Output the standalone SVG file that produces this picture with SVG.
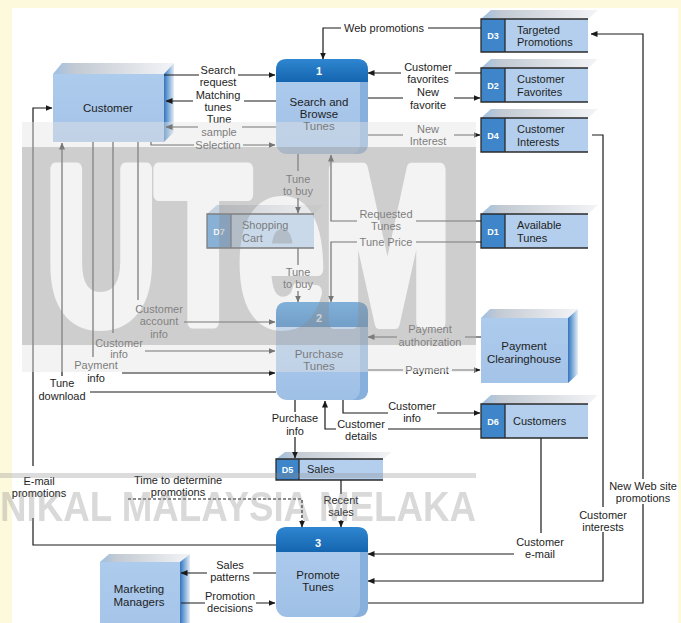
<svg xmlns="http://www.w3.org/2000/svg" width="681" height="623" viewBox="0 0 681 623">
<defs>
<style>
text{font-family:"Liberation Sans",Arial,Helvetica,sans-serif}
.lbl{font-size:11px;fill:#1e1e1e;text-anchor:middle}
.nm{font-size:11px;fill:#1e1e1e}
.nc{font-size:11.5px;fill:#1e1e1e;text-anchor:middle}
.pid{font-size:11px;font-weight:bold;fill:#fff;text-anchor:middle}
.sid{font-size:9px;font-weight:bold;fill:#fff;text-anchor:middle}
.ln{fill:none;stroke:#1a1a1a;stroke-width:1.2;marker-end:url(#ah)}
.dash{stroke-dasharray:3 2}
.sbody{fill:#b3cfed}
.sidbg{fill:#3e86c9}
.sline{stroke:#2b2b2b;stroke-width:1.3;fill:none}
.top{fill:url(#gTop)}
.front{fill:url(#gFront)}
.side{fill:url(#gSide)}
.pbody{fill:url(#gPBody)}
.phead{fill:url(#gPHead)}
.pbev{fill:#88b0dd}
</style>
<marker id="ah" markerWidth="7" markerHeight="6" refX="6.5" refY="3" orient="auto" markerUnits="userSpaceOnUse"><path d="M0,0 L7,3 L0,6 Z" fill="#1a1a1a"/></marker>
<linearGradient id="gTop" x1="0" y1="0" x2="1" y2="0"><stop offset="0" stop-color="#9ebfe0"/><stop offset="0.18" stop-color="#c3cad3"/><stop offset="1" stop-color="#f3f4f6"/></linearGradient>
<linearGradient id="gSide" x1="0" y1="0" x2="1" y2="0"><stop offset="0" stop-color="#3574bd"/><stop offset="0.35" stop-color="#6c9fd4"/><stop offset="1" stop-color="#e6edf5"/></linearGradient>
<linearGradient id="gFront" x1="0" y1="0" x2="0" y2="1"><stop offset="0" stop-color="#adcbec"/><stop offset="1" stop-color="#a4c3e8"/></linearGradient>
<linearGradient id="gPBody" x1="0" y1="0" x2="0" y2="1"><stop offset="0" stop-color="#b0cdee"/><stop offset="1" stop-color="#9fc0e6"/></linearGradient>
<linearGradient id="gPHead" x1="0" y1="0" x2="0" y2="1"><stop offset="0" stop-color="#2f86d0"/><stop offset="1" stop-color="#1565b0"/></linearGradient>
<mask id="wmMask" maskUnits="userSpaceOnUse" x="0" y="0" width="681" height="623">
<rect x="0" y="0" width="681" height="623" fill="#fff"/>
<text x="46" y="322" font-size="220" font-weight="bold" fill="#000" stroke="#000" stroke-width="14" stroke-linejoin="round" textLength="405" lengthAdjust="spacingAndGlyphs">UTeM</text>
</mask>
</defs>

<rect x="0" y="0" width="681" height="623" fill="#fdf9dc"/>
<rect x="12" y="8" width="666" height="615" fill="#ffffff"/>

<g id="customer">
<polygon class="top" points="53,74 62,63 174,63 164,74"/>
<polygon class="side" points="164,74 174,63 174,132 164,142"/>
<rect class="front" x="53" y="74" width="111" height="68"/>
<text class="nc" x="108" y="112">Customer</text>
</g>

<g id="payment-clearinghouse">
<polygon class="top" points="481,318 490,309 578,309 568,318"/>
<polygon class="side" points="568,318 578,309 578,374 568,383"/>
<rect class="front" x="481" y="318" width="87" height="65"/>
<text class="nc"><tspan x="524" y="350">Payment</tspan><tspan x="524" y="362.5">Clearinghouse</tspan></text>
</g>

<g id="marketing-managers">
<polygon class="top" points="100,562 109,554 190,554 180,562"/>
<polygon class="side" points="180,562 190,554 190,632 180,640"/>
<rect class="front" x="100" y="562" width="80" height="78"/>
<text class="nc"><tspan x="139" y="593">Marketing</tspan><tspan x="139" y="605.5">Managers</tspan></text>
</g>

<g id="process-1">
<rect class="pbody" x="276" y="59" width="92" height="95" rx="11"/>
<path class="pbev" d="M360,82 H368 V143 Q368,154 357,154 H352 Q360,152 360,143 Z"/>
<path class="phead" d="M276,82 V70 Q276,59 287,59 H357 Q368,59 368,70 V82 Z"/>
<text class="pid" x="319" y="75">1</text>
<text class="nc"><tspan x="319" y="106">Search and</tspan><tspan x="319" y="118">Browse</tspan><tspan x="319" y="130">Tunes</tspan></text>
</g>

<g id="process-2">
<rect class="pbody" x="276" y="302" width="92" height="98" rx="11"/>
<path class="pbev" d="M360,327 H368 V389 Q368,400 357,400 H352 Q360,398 360,389 Z"/>
<path class="phead" d="M276,327 V313 Q276,302 287,302 H357 Q368,302 368,313 V327 Z"/>
<text class="pid" x="319" y="322">2</text>
<text class="nc"><tspan x="319" y="357.5">Purchase</tspan><tspan x="319" y="370">Tunes</tspan></text>
</g>

<g id="process-3">
<rect class="pbody" x="276" y="527" width="92" height="90" rx="11"/>
<path class="pbev" d="M360,552 H368 V606 Q368,617 357,617 H352 Q360,615 360,606 Z"/>
<path class="phead" d="M276,552 V538 Q276,527 287,527 H357 Q368,527 368,538 V552 Z"/>
<text class="pid" x="318" y="547">3</text>
<text class="nc"><tspan x="318" y="579">Promote</tspan><tspan x="318" y="591">Tunes</tspan></text>
</g>

<g id="D3">
<polygon class="top" points="481,19 491,10 598,10 588,19"/>
<rect class="sbody" x="481" y="19" width="107" height="33"/>
<rect class="sidbg" x="481" y="19" width="24" height="33"/>
<path class="sline" d="M588,19 H481 V52 H588 M505,19 V52"/>
<text class="sid" x="493" y="39">D3</text>
<text class="nm"><tspan x="517" y="33.5">Targeted</tspan><tspan x="517" y="46">Promotions</tspan></text>
</g>

<g id="D2">
<polygon class="top" points="481,68 491,59 598,59 588,68"/>
<rect class="sbody" x="481" y="68" width="107" height="34"/>
<rect class="sidbg" x="481" y="68" width="24" height="34"/>
<path class="sline" d="M588,68 H481 V102 H588 M505,68 V102"/>
<text class="sid" x="493" y="88.5">D2</text>
<text class="nm"><tspan x="517" y="83">Customer</tspan><tspan x="517" y="95.5">Favorites</tspan></text>
</g>

<g id="D4">
<polygon class="top" points="481,118 491,109 598,109 588,118"/>
<rect class="sbody" x="481" y="118" width="107" height="34"/>
<rect class="sidbg" x="481" y="118" width="24" height="34"/>
<path class="sline" d="M588,118 H481 V152 H588 M505,118 V152"/>
<text class="sid" x="493" y="138.5">D4</text>
<text class="nm"><tspan x="517" y="133">Customer</tspan><tspan x="517" y="145.5">Interests</tspan></text>
</g>

<g id="D1">
<polygon class="top" points="481,214 491,205 598,205 588,214"/>
<rect class="sbody" x="481" y="214" width="107" height="34"/>
<rect class="sidbg" x="481" y="214" width="24" height="34"/>
<path class="sline" d="M588,214 H481 V248 H588 M505,214 V248"/>
<text class="sid" x="493" y="234.5">D1</text>
<text class="nm"><tspan x="517" y="229">Available</tspan><tspan x="517" y="242">Tunes</tspan></text>
</g>

<g id="D7">
<polygon class="top" points="207,214 217,205 324,205 314,214"/>
<rect class="sbody" x="207" y="214" width="107" height="34"/>
<rect class="sidbg" x="207" y="214" width="24" height="34"/>
<path class="sline" d="M314,214 H207 V248 H314 M231,214 V248"/>
<text class="sid" x="219" y="234.5">D7</text>
<text class="nm"><tspan x="242" y="228.5">Shopping</tspan><tspan x="242" y="242">Cart</tspan></text>
</g>

<g id="D6">
<polygon class="top" points="481,404 491,395 598,395 588,404"/>
<rect class="sbody" x="481" y="404" width="107" height="34"/>
<rect class="sidbg" x="481" y="404" width="24" height="34"/>
<path class="sline" d="M588,404 H481 V438 H588 M505,404 V438"/>
<text class="sid" x="493" y="424.5">D6</text>
<text class="nm" x="513" y="425">Customers</text>
</g>

<g id="D5">
<polygon class="top" points="276,459 285,452 392,452 383,459"/>
<rect class="sbody" x="276" y="459" width="107" height="21"/>
<rect class="sidbg" x="276" y="459" width="23" height="21"/>
<path class="sline" d="M383,459 H276 V480 H383 M299,459 V480"/>
<text class="sid" x="287.5" y="473">D5</text>
<text class="nm" x="307" y="473">Sales</text>
</g>

<g id="connectors">
<path class="ln" d="M481,28 H428 M341,28 H323 V59"/>
<path class="ln" d="M164,75 H199 M238,75 H275"/>
<path class="ln" d="M276,101 H244 M193,101 H166"/>
<path class="ln" d="M276,127 H242 M198,127 H166"/>
<path class="ln" d="M151,142 V145 H194 M243,145 H275"/>
<path class="ln" d="M481,73 H455 M401,73 H368"/>
<path class="ln" d="M368,98 H403 M454,98 H480"/>
<path class="ln" d="M368,135 H403 M454,135 H480"/>
<path class="ln" d="M298,154 V171 M298,198 V213"/>
<path class="ln" d="M481,221 H416 M357,221 H331 V155"/>
<path class="ln" d="M481,242 H416 M357,242 H331 V302"/>
<path class="ln" d="M298,248 V265 M298,291 V302"/>
<path class="ln" d="M138,142 V300 M184,322 H275"/>
<path class="ln" d="M113,142 V333 M145,351 H275"/>
<path class="ln" d="M93,142 V357 M122,373 H275"/>
<path class="ln" d="M276,392 H90 M62,376 V143"/>
<path class="ln" d="M276,545 H33 V518 M33,466 V108 H52"/>
<path class="ln dash" d="M128,499 H302 V527"/>
<path class="ln" d="M341,480 V494 M341,520 V527"/>
<path class="ln" d="M295,400 V412 M295,437 V458"/>
<path class="ln" d="M481,429 H388 M336,429 H325 V401"/>
<path class="ln" d="M343,400 V413 H388 M437,413 H480"/>
<path class="ln" d="M481,337 H465 M397,337 H368"/>
<path class="ln" d="M368,370 H403 M452,370 H480"/>
<path class="ln" d="M541,438 V533 M514,554 H368"/>
<path class="ln" d="M592,135 H603 V507 M603,532 V581 H368"/>
<path class="ln" d="M368,603 H643 V504 M643,479 V34 H591"/>
<path class="ln" d="M276,573 H253 M207,573 H181"/>
<path class="ln" d="M181,603 H205 M256,603 H275"/>
</g>

<g id="connector-labels">
<text class="lbl" x="384" y="32">Web promotions</text>
<text class="lbl"><tspan x="218" y="73.5">Search</tspan><tspan x="218" y="85.5">request</tspan></text>
<text class="lbl"><tspan x="218" y="99">Matching</tspan><tspan x="218" y="111">tunes</tspan></text>
<text class="lbl"><tspan x="219" y="123">Tune</tspan><tspan x="219" y="135.5">sample</tspan></text>
<text class="lbl" x="218" y="148.5">Selection</text>
<text class="lbl"><tspan x="428" y="70.5">Customer</tspan><tspan x="428" y="82.5">favorites</tspan></text>
<text class="lbl"><tspan x="428" y="96">New</tspan><tspan x="428" y="108.5">favorite</tspan></text>
<text class="lbl"><tspan x="428" y="133">New</tspan><tspan x="428" y="145">Interest</tspan></text>
<text class="lbl"><tspan x="298" y="183">Tune</tspan><tspan x="298" y="195">to buy</tspan></text>
<text class="lbl"><tspan x="386" y="217.5">Requested</tspan><tspan x="386" y="229.5">Tunes</tspan></text>
<text class="lbl" x="386" y="246">Tune Price</text>
<text class="lbl"><tspan x="298" y="276">Tune</tspan><tspan x="298" y="288">to buy</tspan></text>
<text class="lbl"><tspan x="159" y="313">Customer</tspan><tspan x="159" y="325">account</tspan><tspan x="159" y="337.5">info</tspan></text>
<text class="lbl"><tspan x="119" y="346.5">Customer</tspan><tspan x="119" y="358">info</tspan></text>
<text class="lbl"><tspan x="96" y="369">Payment</tspan><tspan x="96" y="381.5">info</tspan></text>
<text class="lbl"><tspan x="62" y="387">Tune</tspan><tspan x="62" y="399.5">download</tspan></text>
<text class="lbl"><tspan x="39" y="485">E-mail</tspan><tspan x="39" y="497">promotions</tspan></text>
<text class="lbl"><tspan x="178" y="484">Time to determine</tspan><tspan x="178" y="495.5">promotions</tspan></text>
<text class="lbl"><tspan x="341" y="504">Recent</tspan><tspan x="341" y="515.5">sales</tspan></text>
<text class="lbl"><tspan x="295" y="422">Purchase</tspan><tspan x="295" y="434.5">info</tspan></text>
<text class="lbl"><tspan x="361" y="427.5">Customer</tspan><tspan x="361" y="439.5">details</tspan></text>
<text class="lbl"><tspan x="412" y="410">Customer</tspan><tspan x="412" y="421.5">info</tspan></text>
<text class="lbl"><tspan x="430" y="333">Payment</tspan><tspan x="430" y="345.5">authorization</tspan></text>
<text class="lbl" x="427" y="374">Payment</text>
<text class="lbl"><tspan x="540" y="546">Customer</tspan><tspan x="540" y="558">e-mail</tspan></text>
<text class="lbl"><tspan x="603" y="519">Customer</tspan><tspan x="603" y="531">interests</tspan></text>
<text class="lbl"><tspan x="643" y="490">New Web site</tspan><tspan x="643" y="502">promotions</tspan></text>
<text class="lbl"><tspan x="230" y="569">Sales</tspan><tspan x="230" y="581">patterns</tspan></text>
<text class="lbl"><tspan x="230" y="600">Promotion</tspan><tspan x="230" y="612">decisions</tspan></text>
</g>

<g id="watermark">
<rect x="22" y="122" width="454" height="250" fill="#e4e4e4" opacity="0.45"/>
<rect x="22" y="147" width="454" height="198" fill="#8a8a8a" opacity="0.34" mask="url(#wmMask)"/>
<rect x="0" y="473" width="476" height="5" fill="#8a8a8a" opacity="0.3"/>
<text x="0" y="521" font-size="42" font-weight="bold" fill="#8a8a8a" opacity="0.32" textLength="476" lengthAdjust="spacingAndGlyphs">NIKAL MALAYSIA MELAKA</text>
</g>
</svg>
